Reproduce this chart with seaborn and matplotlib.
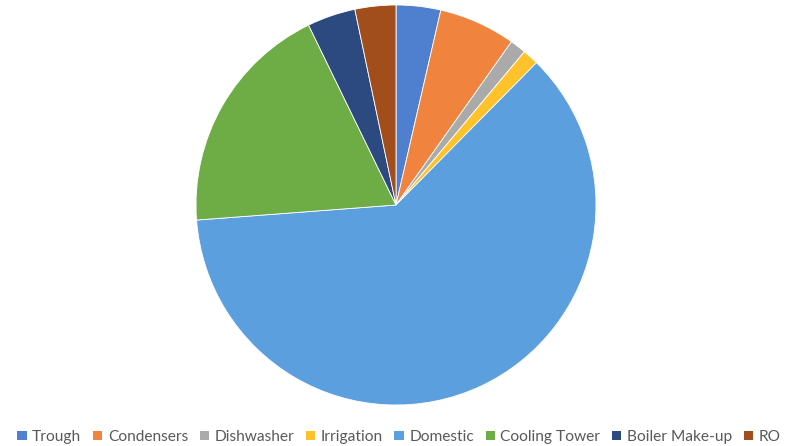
import matplotlib
matplotlib.use("Agg")
import matplotlib.pyplot as plt
import seaborn as sns
from matplotlib.patches import Patch

# Water use breakdown
categories = ["Trough", "Condensers", "Dishwasher", "Irrigation", "Domestic",
              "Cooling Tower", "Boiler Make-up", "RO"]
shares = [3.6, 6.2, 1.3, 1.3, 61.4, 19.0, 3.9, 3.3]
colors = ["#4f7fcf", "#f0843e", "#aaaaaa", "#fec22a", "#5b9fdf",
          "#6ead46", "#2c4a80", "#a24e1c"]

sns.set_theme(style="white")
plt.rcParams['font.family'] = ['Lato', 'DejaVu Sans']

fig = plt.figure(figsize=(7.98, 4.46), dpi=100)
ax = fig.add_axes([196 / 798, 41 / 446, 400 / 798, 400 / 446])
ax.pie(shares, colors=colors, startangle=90, counterclock=False,
       wedgeprops=dict(edgecolor="white", linewidth=0.6))
ax.set_xlim(-1, 1)
ax.set_ylim(-1, 1)
ax.set_aspect("equal")
ax.axis("off")

handles = [Patch(facecolor=c, edgecolor="none") for c in colors]
fig.legend(handles, categories, loc="center", bbox_to_anchor=(0.5, 9 / 446),
           ncol=len(categories), frameon=False, fontsize=11.2,
           handlelength=0.6, handleheight=0.6, handletextpad=0.35,
           columnspacing=0.75, labelcolor="#595959")

fig.savefig("out.png", dpi=100)
